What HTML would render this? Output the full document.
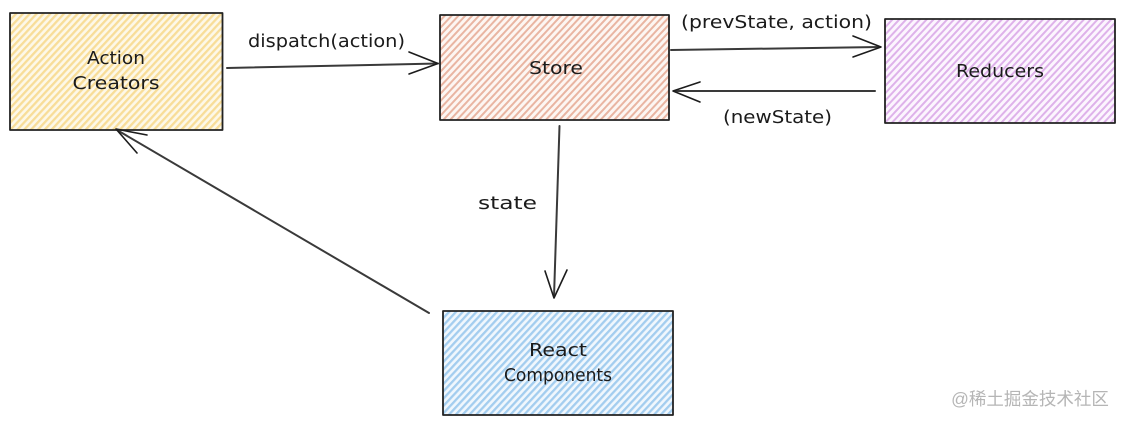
<!DOCTYPE html>
<html><head><meta charset="utf-8"><style>
html,body{margin:0;padding:0;background:#fff;width:1124px;height:424px;overflow:hidden}
svg{display:block}
text{font-family:"DejaVu Sans","Liberation Sans",sans-serif;fill:#1b1b1b;text-anchor:middle;font-size:18px}
.a{fill:none;stroke:#1c1c1c;stroke-width:1.600;stroke-linecap:round;stroke-linejoin:round}
.s{fill:none;stroke:#3a3a3a;stroke-width:2;stroke-linecap:round}
.b{stroke:#222;stroke-width:1.800;stroke-linejoin:round}
</style></head><body>
<svg width="1124" height="424" viewBox="0 0 1124 424" xmlns="http://www.w3.org/2000/svg">
<defs>
<pattern id="y" width="5" height="5" patternUnits="userSpaceOnUse" patternTransform="rotate(-47)"><rect width="5" height="5" fill="#fdf8e8"/><rect width="5" height="2.300" fill="#f8dd98"/></pattern>
<pattern id="o" width="5" height="5" patternUnits="userSpaceOnUse" patternTransform="rotate(-47)"><rect width="5" height="5" fill="#fdf6f2"/><rect width="5" height="2" fill="#e9b5a2"/></pattern>
<pattern id="p" width="5" height="5" patternUnits="userSpaceOnUse" patternTransform="rotate(-47)"><rect width="5" height="5" fill="#fcf5fe"/><rect width="5" height="2" fill="#deb2ea"/></pattern>
<pattern id="u" width="5" height="5" patternUnits="userSpaceOnUse" patternTransform="rotate(-47)"><rect width="5" height="5" fill="#f0f7fd"/><rect width="5" height="2.300" fill="#a3cdef"/></pattern>
</defs>
<rect width="1124" height="424" fill="#fff"/>

<rect x="10" y="13" width="212.500" height="117" style="fill:url(#y)" class="b"/>
<text x="116" y="64" textLength="58" lengthAdjust="spacingAndGlyphs">Action</text>
<text x="116" y="89" textLength="87" lengthAdjust="spacingAndGlyphs">Creators</text>

<rect x="440" y="15" width="229" height="105" style="fill:url(#o)" class="b"/>
<text x="556" y="74" textLength="54" lengthAdjust="spacingAndGlyphs">Store</text>

<rect x="885" y="19" width="230" height="104" style="fill:url(#p)" class="b"/>
<text x="1000" y="77" textLength="88" lengthAdjust="spacingAndGlyphs">Reducers</text>

<rect x="443" y="311" width="230" height="104" style="fill:url(#u)" class="b"/>
<text x="558" y="356" textLength="58" lengthAdjust="spacingAndGlyphs">React</text>
<text x="558" y="381" textLength="108" lengthAdjust="spacingAndGlyphs">Components</text>

<path class="s" d="M227 68 L438 63.500"/>
<path class="a" d="M409 52 L438 63.500 L409 74"/>
<path class="s" d="M671 50 L880 47"/>
<path class="a" d="M853 36 L881 47 L853 57"/>
<path class="s" d="M875 91 L674 91"/>
<path class="a" d="M700 82 L673 91 L700 102"/>
<path class="s" d="M559.500 126 L554 297"/>
<path class="a" d="M545 271 L554 298 L567 270"/>
<path class="s" d="M429 313 L117 130"/>
<path class="a" d="M147 135 L116 129 L137 153"/>

<text x="326.500" y="47" textLength="157" lengthAdjust="spacingAndGlyphs">dispatch(action)</text>
<text x="776.500" y="28" textLength="191" lengthAdjust="spacingAndGlyphs">(prevState, action)</text>
<text x="777.500" y="123" textLength="109" lengthAdjust="spacingAndGlyphs">(newState)</text>
<text x="507.500" y="209" textLength="59" lengthAdjust="spacingAndGlyphs">state</text>
<text x="1030" y="405" style="font-family:'Liberation Sans','Noto Sans CJK SC',sans-serif;font-size:17.500px;fill:#b5b5b5">@稀土掘金技术社区</text>
</svg>
</body></html>
